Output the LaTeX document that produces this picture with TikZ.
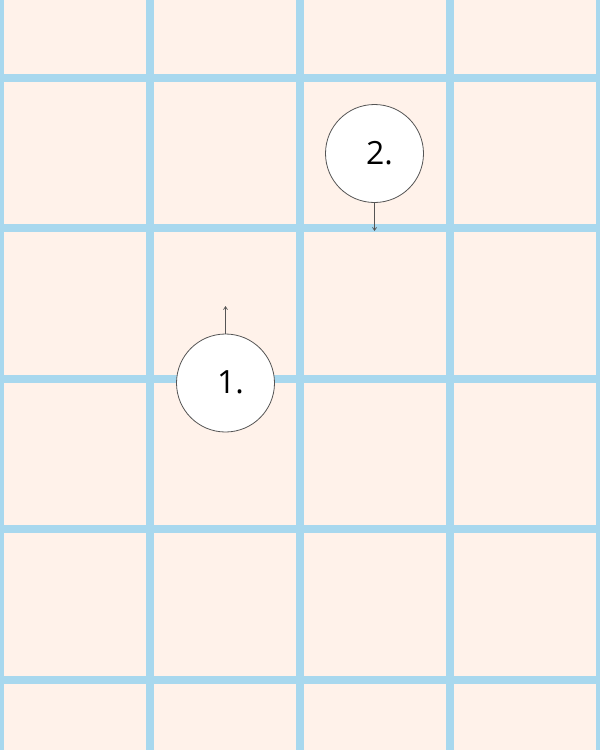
\documentclass[tikz,border=0pt]{standalone}
\usepackage{fontspec}
\setmainfont{Open Sans}
\usetikzlibrary{arrows.meta}
\definecolor{bgc}{HTML}{FFF2EA}
\definecolor{gridc}{HTML}{A8D8EE}
\definecolor{inkc}{HTML}{555555}
\newcommand{\bubtext}[1]{\hspace*{10pt}\raisebox{2pt}{#1}}
\begin{document}
\begin{tikzpicture}[x=1pt,y=-1pt,
  gridline/.style={draw=gridc,line width=8pt},
  bubble/.style={circle,draw=inkc,line width=0.8pt,fill=white,minimum size=98pt,inner sep=0pt,font=\fontsize{32}{38}\selectfont},
  pointer/.style={draw=inkc,line width=0.7pt,-{Straight Barb[length=3pt,width=4pt]}}]
\useasboundingbox (0,0) rectangle (600,750);
\fill[bgc] (0,0) rectangle (600,750);
\foreach \x in {0,150,300,450,600}
  \draw[gridline] (\x,0) -- (\x,750);
\foreach \y in {77.5,228,378.5,529,680}
  \draw[gridline] (0,\y) -- (600,\y);
\node[bubble] (b1) at (225.5,383) {\bubtext{1.}};
\node[bubble] (b2) at (374.5,153.5) {\bubtext{2.}};
\coordinate (t1) at (225.5,306);
\coordinate (t2) at (374.5,231);
\draw[pointer] (b1.north) -- (t1);
\draw[pointer] (b2.south) -- (t2);
\end{tikzpicture}
\end{document}
